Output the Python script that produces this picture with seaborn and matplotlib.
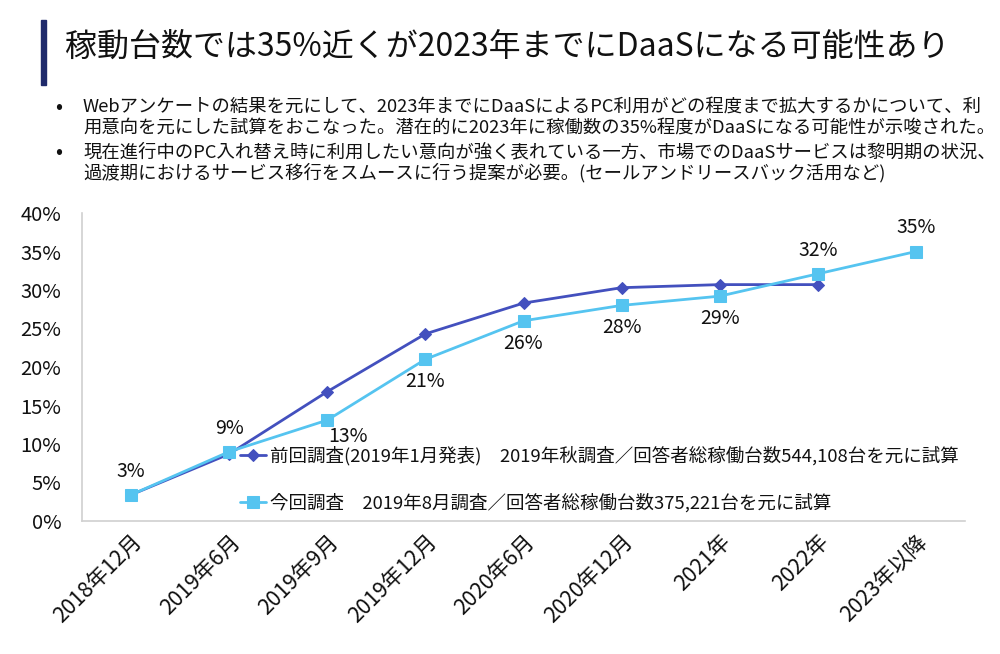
import matplotlib
matplotlib.use("Agg")
import matplotlib.pyplot as plt
import seaborn as sns
import pandas as pd
from matplotlib.ticker import FuncFormatter, MultipleLocator

# ---- data ----
categories = ["2018年12月", "2019年6月", "2019年9月", "2019年12月", "2020年6月",
              "2020年12月", "2021年", "2022年", "2023年以降"]
prev_values = [3.4, 8.7, 16.8, 24.3, 28.3, 30.3, 30.7, 30.7]          # 前回調査
curr_values = [3.4, 9.0, 13.1, 21.0, 26.0, 28.0, 29.2, 32.1, 35.0]    # 今回調査
curr_labels = ["3%", "9%", "13%", "21%", "26%", "28%", "29%", "32%", "35%"]
label_side = ["above", "above", "below", "below", "below", "below", "below", "above", "above"]
prev_name = "前回調査(2019年1月発表)\u30002019年秋調査／回答者総稼働台数544,108台を元に試算"
curr_name = "今回調査\u30002019年8月調査／回答者総稼働台数375,221台を元に試算"
title = "稼動台数では35%近くが2023年までにDaaSになる可能性あり"
bullets = [
    ["Webアンケートの結果を元にして、2023年までにDaaSによるPC利用がどの程度まで拡大するかについて、利",
     "用意向を元にした試算をおこなった。潜在的に2023年に稼働数の35%程度がDaaSになる可能性が示唆された。"],
    ["現在進行中のPC入れ替え時に利用したい意向が強く表れている一方、市場でのDaaSサービスは黎明期の状況、",
     "過渡期におけるサービス移行をスムースに行う提案が必要。(セールアンドリースバック活用など)"],
]

sns.set_theme(style="white")
plt.rcParams["font.family"] = ["Noto Sans CJK JP", "DejaVu Sans"]

DARK = "#4350BE"
LIGHT = "#55C4F0"

fig = plt.figure(figsize=(10, 6.54), dpi=100)
fig.patch.set_facecolor("white")

# title bar + title
fig.patches.append(plt.Rectangle((41 / 1000, 1 - 85 / 654), 5 / 1000, 65 / 654,
                                 transform=fig.transFigure, color="#1F2A6B", zorder=5))
fig.text(65 / 1000, 1 - 47 / 654, title, fontsize=23, va="center", ha="left", color="#111111")

# bullets
ys = [[107, 128], [152, 173]]
for para, yy in zip(bullets, ys):
    fig.text(55 / 1000, 1 - yy[0] / 654, "•", fontsize=15, va="center", ha="left", color="#111111")
    for line, y in zip(para, yy):
        fig.text(83 / 1000, 1 - y / 654, line, fontsize=13.2, va="center", ha="left", color="#111111")

ax = fig.add_axes([0.082, 1 - 521 / 654, 0.883, (521 - 213) / 654])

x_idx = list(range(len(categories)))
df_prev = pd.DataFrame({"x": x_idx[:len(prev_values)], "y": [v / 100 for v in prev_values]})
df_curr = pd.DataFrame({"x": x_idx, "y": [v / 100 for v in curr_values]})

sns.lineplot(data=df_prev, x="x", y="y", ax=ax, color=DARK, linewidth=2, marker="D",
             markersize=6.5, markeredgecolor=DARK, label=prev_name, zorder=3)
sns.lineplot(data=df_curr, x="x", y="y", ax=ax, color=LIGHT, linewidth=2, marker="s",
             markersize=9, markeredgecolor=LIGHT, label=curr_name, zorder=4)

for i, (v, t, side) in enumerate(zip(curr_values, curr_labels, label_side)):
    dy = 17 if side == "above" else -16
    dx = 0
    if t == "13%":
        dx, dy = 15, -12
    ax.annotate(t, (i, v / 100), xytext=(dx, dy), textcoords="offset points",
                ha="center", va="center", fontsize=14, color="#111111")

ax.set_xlim(-0.5, len(categories) - 0.5)
ax.set_ylim(0, 0.40)
ax.yaxis.set_major_locator(MultipleLocator(0.05))
ax.yaxis.set_major_formatter(FuncFormatter(lambda v, p: f"{v * 100:.0f}%"))
ax.set_xticks(x_idx)
ax.set_xticklabels(categories, rotation=45, ha="right", rotation_mode="anchor", fontsize=15.5)
ax.tick_params(axis="y", labelsize=14.5, pad=15, length=0)
ax.tick_params(axis="x", pad=7, length=0)
for lab in ax.get_yticklabels() + ax.get_xticklabels():
    lab.set_color("#111111")
ax.set_xlabel("")
ax.set_ylabel("")
ax.grid(False)
for s in ["top", "right"]:
    ax.spines[s].set_visible(False)
for s in ["left", "bottom"]:
    ax.spines[s].set_color("#D0D0D0")
    ax.spines[s].set_linewidth(1.2)

leg = ax.legend(loc="upper left", bbox_to_anchor=(240 / 1000, 1 - 446 / 654),
                bbox_transform=fig.transFigure, frameon=False, fontsize=13.3,
                handlelength=1.4, handletextpad=0.25, labelspacing=1.5,
                borderpad=0, borderaxespad=0)
for t in leg.get_texts():
    t.set_color("#111111")

fig.savefig("out.png", dpi=100, facecolor="white")
